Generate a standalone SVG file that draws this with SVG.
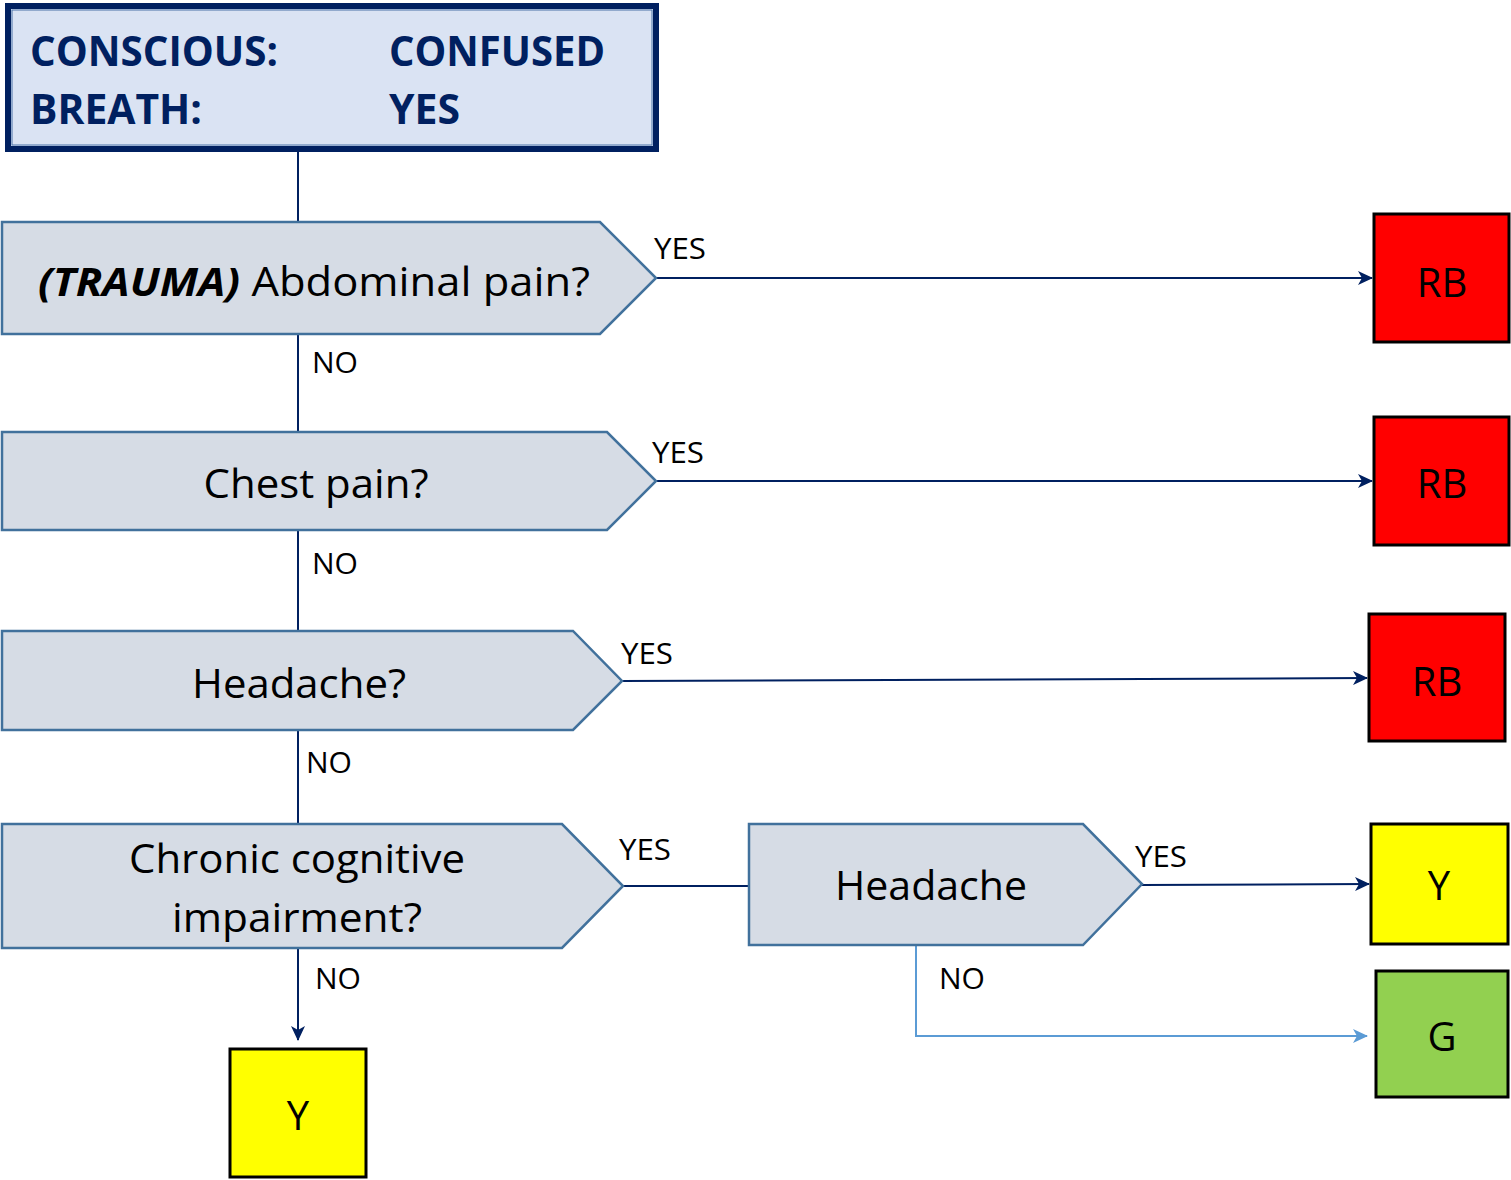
<svg xmlns="http://www.w3.org/2000/svg" width="1511" height="1180" viewBox="0 0 1511 1180">
<style>
text{font-family:"Open Sans","Noto Sans","Liberation Sans",sans-serif;fill:#000}
.hdr{font-size:42px;font-weight:bold;fill:#002060}
.q{font-size:40px}
.lbl{font-size:30px}
.box{font-size:40px}
.pent{fill:#d6dce5;stroke:#41719c;stroke-width:2.5}
.c{fill:none;stroke:#002060;stroke-width:2}
.cl{fill:none;stroke:#5b9bd5;stroke-width:2}
.out{stroke:#000;stroke-width:3}
</style>
<defs>
<marker id="ah" markerUnits="userSpaceOnUse" markerWidth="16" markerHeight="14" refX="14" refY="7" orient="auto">
<path d="M0,0 L15,7 L0,14 L4,7 z" fill="#002060"/>
</marker>
<marker id="ahl" markerUnits="userSpaceOnUse" markerWidth="16" markerHeight="14" refX="14" refY="7" orient="auto">
<path d="M0,0 L15,7 L0,14 L4,7 z" fill="#5b9bd5"/>
</marker>
</defs>
<g id="connectors">
<path class="c" d="M298,152 V222"/>
<path class="c" d="M298,334 V432"/>
<path class="c" d="M298,530 V631"/>
<path class="c" d="M298,730 V824"/>
<path class="c" d="M298,948 V1040" marker-end="url(#ah)"/>
<path class="c" d="M656,278 H1372" marker-end="url(#ah)"/>
<path class="c" d="M656,481 H1372" marker-end="url(#ah)"/>
<path class="c" d="M622,681 L1367,678" marker-end="url(#ah)"/>
<path class="c" d="M623,886 H749"/>
<path class="c" d="M1142,885 L1369,884" marker-end="url(#ah)"/>
<path class="cl" d="M916,945 V1036 H1367" marker-end="url(#ahl)"/>
<text class="lbl" x="654" y="259" textLength="52" lengthAdjust="spacingAndGlyphs">YES</text>
<text class="lbl" x="652" y="463" textLength="52" lengthAdjust="spacingAndGlyphs">YES</text>
<text class="lbl" x="621" y="664" textLength="52" lengthAdjust="spacingAndGlyphs">YES</text>
<text class="lbl" x="619" y="860" textLength="52" lengthAdjust="spacingAndGlyphs">YES</text>
<text class="lbl" x="1135" y="867" textLength="52" lengthAdjust="spacingAndGlyphs">YES</text>
<text class="lbl" x="312" y="373" textLength="46" lengthAdjust="spacingAndGlyphs">NO</text>
<text class="lbl" x="312" y="574" textLength="46" lengthAdjust="spacingAndGlyphs">NO</text>
<text class="lbl" x="306" y="773" textLength="46" lengthAdjust="spacingAndGlyphs">NO</text>
<text class="lbl" x="315" y="989" textLength="46" lengthAdjust="spacingAndGlyphs">NO</text>
<text class="lbl" x="939" y="989" textLength="46" lengthAdjust="spacingAndGlyphs">NO</text>
</g>
<g id="header">
<rect x="8" y="6" width="648" height="143" fill="#dae3f3" stroke="#002060" stroke-width="6"/>
<rect x="12" y="10" width="640" height="135" fill="none" stroke="#4a73a8" stroke-width="1"/>
<text class="hdr" x="30" y="66" textLength="248" lengthAdjust="spacingAndGlyphs">CONSCIOUS:</text>
<text class="hdr" x="389" y="66" textLength="216" lengthAdjust="spacingAndGlyphs">CONFUSED</text>
<text class="hdr" x="30" y="124" textLength="172" lengthAdjust="spacingAndGlyphs">BREATH:</text>
<text class="hdr" x="389" y="124" textLength="71" lengthAdjust="spacingAndGlyphs">YES</text>
</g>
<g id="q1">
<path class="pent" d="M2,222 H600 L656,278 L600,334 H2 Z"/>
<text class="q" x="38" y="296" textLength="552" lengthAdjust="spacingAndGlyphs"><tspan font-weight="bold" font-style="italic">(TRAUMA)</tspan> Abdominal pain?</text>
</g>
<g id="q2">
<path class="pent" d="M2,432 H607 L656,481 L607,530 H2 Z"/>
<text class="q" x="316" y="498" text-anchor="middle" textLength="225" lengthAdjust="spacingAndGlyphs">Chest pain?</text>
</g>
<g id="q3">
<path class="pent" d="M2,631 H573 L622,681 L573,730 H2 Z"/>
<text class="q" x="299" y="698" text-anchor="middle" textLength="214" lengthAdjust="spacingAndGlyphs">Headache?</text>
</g>
<g id="q4">
<path class="pent" d="M2,824 H562 L623,886 L562,948 H2 Z"/>
<text class="q" x="297" y="873" text-anchor="middle" textLength="336" lengthAdjust="spacingAndGlyphs">Chronic cognitive</text>
<text class="q" x="297" y="932" text-anchor="middle" textLength="250" lengthAdjust="spacingAndGlyphs">impairment?</text>
</g>
<g id="q5">
<path class="pent" d="M749,824 H1083 L1142,884 L1083,945 H749 Z"/>
<text class="q" x="931" y="900" text-anchor="middle" textLength="192" lengthAdjust="spacingAndGlyphs">Headache</text>
</g>
<g id="rb1">
<rect class="out" x="1374" y="214" width="135" height="128" fill="#ff0000"/>
<text class="box" x="1442" y="297" text-anchor="middle">RB</text>
</g>
<g id="rb2">
<rect class="out" x="1374" y="417" width="135" height="128" fill="#ff0000"/>
<text class="box" x="1442" y="498" text-anchor="middle">RB</text>
</g>
<g id="rb3">
<rect class="out" x="1369" y="614" width="136" height="127" fill="#ff0000"/>
<text class="box" x="1437" y="696" text-anchor="middle">RB</text>
</g>
<g id="y1">
<rect class="out" x="1371" y="824" width="137" height="120" fill="#ffff00"/>
<text class="box" x="1439" y="900" text-anchor="middle">Y</text>
</g>
<g id="g1">
<rect class="out" x="1376" y="971" width="132" height="126" fill="#92d050"/>
<text class="box" x="1442" y="1051" text-anchor="middle">G</text>
</g>
<g id="y2">
<rect class="out" x="230" y="1049" width="136" height="128" fill="#ffff00"/>
<text class="box" x="298" y="1130" text-anchor="middle">Y</text>
</g>
</svg>
